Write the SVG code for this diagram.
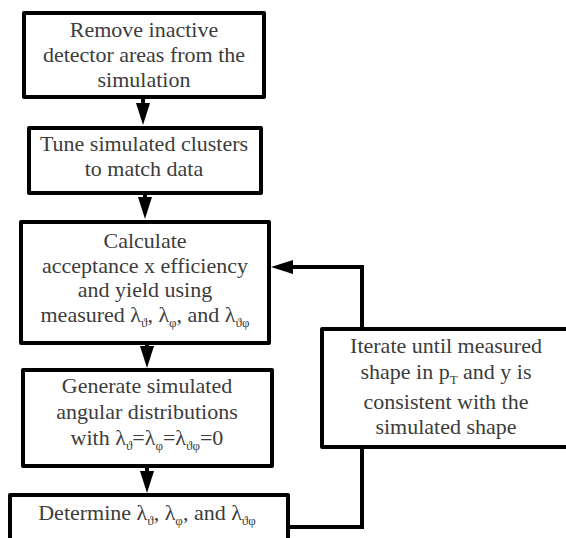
<svg xmlns="http://www.w3.org/2000/svg" width="566" height="538" viewBox="0 0 566 538">
<defs>
<marker id="ah" markerUnits="userSpaceOnUse" markerWidth="22" markerHeight="14" refX="10" refY="7" orient="auto">
<path d="M0,0 L22,7 L0,14 z" fill="#000"/>
</marker>
</defs>
<rect width="566" height="538" fill="#fff"/>
<g id="connectors" fill="none" stroke="#000" stroke-width="4" marker-end="url(#ah)">
<path d="M143,97 V113"/>
<path d="M145,193 V207"/>
<path d="M147,343 V356"/>
<path d="M147,466 V481"/>
<path d="M288,527 H362 V267 H283"/>
</g>
<g id="n1">
<rect x="24" y="13" width="240" height="84" fill="#fff" stroke="#000" stroke-width="4" stroke-linejoin="round"/>
<text font-family="Liberation Serif" font-size="22" fill="#3c3c3c" text-anchor="middle" x="144" y="37">Remove inactive</text>
<text font-family="Liberation Serif" font-size="22" fill="#3c3c3c" text-anchor="middle" x="144" y="62">detector areas from the</text>
<text font-family="Liberation Serif" font-size="22" fill="#3c3c3c" text-anchor="middle" x="144" y="87">simulation</text>
</g>
<g id="n2">
<rect x="29" y="128" width="232" height="65" fill="#fff" stroke="#000" stroke-width="4" stroke-linejoin="round"/>
<text font-family="Liberation Serif" font-size="22" fill="#3c3c3c" text-anchor="middle" x="144" y="151">Tune simulated clusters</text>
<text font-family="Liberation Serif" font-size="22" fill="#3c3c3c" text-anchor="middle" x="144" y="176">to match data</text>
</g>
<g id="n3">
<rect x="21" y="222" width="248" height="121" fill="#fff" stroke="#000" stroke-width="4" stroke-linejoin="round"/>
<text font-family="Liberation Serif" font-size="22" fill="#3c3c3c" text-anchor="middle" x="145" y="248">Calculate</text>
<text font-family="Liberation Serif" font-size="22" fill="#3c3c3c" text-anchor="middle" x="145" y="273">acceptance x efficiency</text>
<text font-family="Liberation Serif" font-size="22" fill="#3c3c3c" text-anchor="middle" x="145" y="297">and yield using</text>
<text font-family="Liberation Serif" font-size="22" fill="#3c3c3c" text-anchor="middle" x="145" y="322">measured λ<tspan font-size="13" dy="5">ϑ</tspan><tspan dy="-5">, λ</tspan><tspan font-size="13" dy="5">φ</tspan><tspan dy="-5">, and λ</tspan><tspan font-size="13" dy="5">ϑφ</tspan></text>
</g>
<g id="n4">
<rect x="23" y="370" width="249" height="96" fill="#fff" stroke="#000" stroke-width="4" stroke-linejoin="round"/>
<text font-family="Liberation Serif" font-size="22" fill="#3c3c3c" text-anchor="middle" x="147" y="393">Generate simulated</text>
<text font-family="Liberation Serif" font-size="22" fill="#3c3c3c" text-anchor="middle" x="147" y="419">angular distributions</text>
<text font-family="Liberation Serif" font-size="22" fill="#3c3c3c" text-anchor="middle" x="147" y="445">with λ<tspan font-size="13" dy="5">ϑ</tspan><tspan dy="-5">=λ</tspan><tspan font-size="13" dy="5">φ</tspan><tspan dy="-5">=λ</tspan><tspan font-size="13" dy="5">ϑφ</tspan><tspan dy="-5">=0</tspan></text>
</g>
<g id="n5">
<rect x="10" y="495" width="278" height="70" fill="#fff" stroke="#000" stroke-width="4" stroke-linejoin="round"/>
<text font-family="Liberation Serif" font-size="22" fill="#3c3c3c" text-anchor="middle" x="147" y="520">Determine λ<tspan font-size="13" dy="5">ϑ</tspan><tspan dy="-5">, λ</tspan><tspan font-size="13" dy="5">φ</tspan><tspan dy="-5">,  and  λ</tspan><tspan font-size="13" dy="5">ϑφ</tspan></text>
</g>
<g id="n6">
<rect x="322" y="329" width="250" height="118" fill="#fff" stroke="#000" stroke-width="4" stroke-linejoin="round"/>
<text font-family="Liberation Serif" font-size="22" fill="#3c3c3c" text-anchor="middle" x="446" y="353">Iterate until measured</text>
<text font-family="Liberation Serif" font-size="22" fill="#3c3c3c" text-anchor="middle" x="446" y="379">shape in p<tspan font-size="13" dy="5">T</tspan><tspan dy="-5"> and y is</tspan></text>
<text font-family="Liberation Serif" font-size="22" fill="#3c3c3c" text-anchor="middle" x="446" y="409">consistent with the</text>
<text font-family="Liberation Serif" font-size="22" fill="#3c3c3c" text-anchor="middle" x="446" y="434">simulated shape</text>
</g>
</svg>
